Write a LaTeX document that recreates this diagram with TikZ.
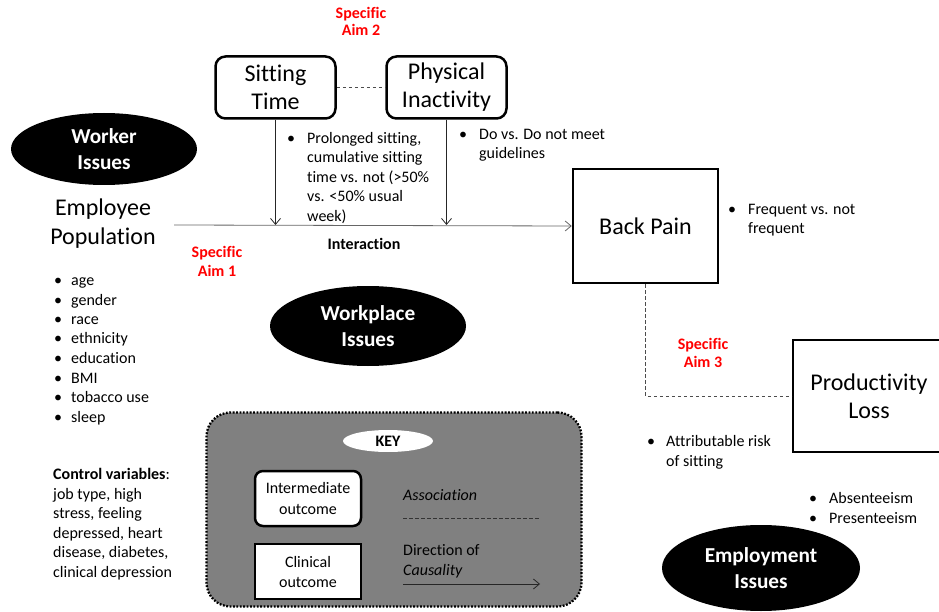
\documentclass[tikz,border=0pt]{standalone}
\usepackage{fontspec}
\setmainfont{Carlito}[Ligatures={NoCommon}]
\usetikzlibrary{arrows.meta,shapes.geometric}

% multi-line text blocks whose reference point is the first baseline
\newcommand\leftlines[1]{\begin{tabular}[t]{@{}l@{}}#1\end{tabular}}
\newcommand\centerlines[1]{\begin{tabular}[t]{@{}c@{}}#1\end{tabular}}
% bulleted block: #1 = indent from bullet to text
\newcommand\bulletblock[2]{\begin{tabular}[t]{@{}p{#1}@{}l@{}}#2\end{tabular}}

\begin{document}
\begin{tikzpicture}[x=1pt,y=-1pt,
  big/.style={font=\fontsize{24}{28}\selectfont},
  body/.style={font=\fontsize{16}{19.5}\selectfont},
  txt/.style={body, anchor=base west, inner sep=0pt},
  aim/.style={text=red, anchor=base, inner sep=0pt},
  issue/.style={ellipse, fill=black, text=white, inner sep=0pt, align=center,
                font=\bfseries\fontsize{21.3}{26.5}\selectfont},
  softbox/.style={draw, line width=2.5pt, rounded corners=10pt, fill=white,
                  align=center, inner sep=0pt, big},
  hardbox/.style={draw, line width=2.5pt, fill=white, align=center, inner sep=0pt, big},
  cause/.style={line width=0.8pt, black!85, -{Straight Barb[length=6pt,width=10pt]}},
  assoc/.style={line width=0.8pt, black!70, dash pattern=on 3.5pt off 2.5pt},
]
\useasboundingbox (0,0) rectangle (939,612);
\clip (0,0) rectangle (939,612);

% ---- exposures ----
\node[softbox, minimum width=120, minimum height=62] (sit) at (275.5,87.5) {Sitting\\Time};
\node[softbox, minimum width=120, minimum height=62] (phys) at (446.5,87.5) {Physical\\Inactivity};
\node[aim, font=\bfseries\fontsize{16}{16}\selectfont] (aim2) at (361,19) {\centerlines{Specific\\Aim 2}};
\draw[assoc] (sit.east) -- (phys.west);

% ---- outcomes ----
\node[hardbox, minimum width=145, minimum height=114] (back) at (645.5,226) {Back Pain};
\node[hardbox, minimum width=152, minimum height=112] (prod) at (869,396) {Productivity\\Loss};

% ---- population ----
\node[issue, minimum width=186, minimum height=72] (worker) at (104,149) {Worker\\Issues};
\node[align=center, inner sep=0pt, font=\fontsize{24}{29}\selectfont] (pop) at (103,223.5) {Employee\\Population};
\coordinate (start) at (174,225);

% ---- connectors ----
\draw[cause, black!60] (start) -- (back.west);
\draw[cause] (sit.south) -- (sit.south |- start);
\draw[cause] (phys.south) -- (phys.south |- start);
\draw[assoc] (back.south) |- (prod.west);

\node[font=\bfseries\fontsize{16}{19.5}\selectfont, anchor=base, inner sep=0pt] (inter) at (364,250) {Interaction};
\node[aim, font=\bfseries\fontsize{16}{18.5}\selectfont] (aim1) at (217,258) {\centerlines{Specific\\Aim 1}};
\node[aim, font=\bfseries\fontsize{16}{18.5}\selectfont] (aim3) at (703,349) {\centerlines{Specific\\Aim 3}};

% ---- bulleted notes ----
\node[txt] (sitnote) at (287,143.5) {\bulletblock{20pt}{\textbullet & Prolonged sitting,\\ & cumulative sitting\\ & time vs. not (>50\%\\ & vs. <50\% usual\\ & week)}};
\node[txt] (physnote) at (459,139.5) {\bulletblock{20pt}{\textbullet & Do vs. Do not meet\\ & guidelines}};
\node[txt] (backnote) at (728,214.5) {\bulletblock{20pt}{\textbullet & Frequent vs. not\\ & frequent}};
\node[txt] (prodnote) at (647,446.5) {\bulletblock{19pt}{\textbullet & Attributable risk\\ & of sitting}};
\node[txt] (empnote) at (809,503.5) {\bulletblock{20pt}{\textbullet & Absenteeism\\ \textbullet & Presenteeism}};
\node[txt] (demo) at (54,285.5) {\bulletblock{17pt}{\textbullet & age\\ \textbullet & gender\\ \textbullet & race\\ \textbullet & ethnicity\\ \textbullet & education\\ \textbullet & BMI\\ \textbullet & tobacco use\\ \textbullet & sleep}};
\node[txt] (control) at (53,479.5) {\leftlines{\textbf{Control variables}:\\ job type,\ high\\ stress, feeling\\ depressed, heart\\ disease, diabetes,\\ clinical depression}};

% ---- issue ellipses ----
\node[issue, minimum width=196, minimum height=80] (workplace) at (368,326) {Workplace\\Issues};
\node[issue, minimum width=198, minimum height=86] (employment) at (761,568) {Employment\\Issues};

% ---- key ----
\node[draw=black, line width=2.3pt, dash pattern=on 1.8pt off 1.6pt, fill=black!50,
      rounded corners=24pt, minimum width=375, minimum height=194, inner sep=0pt] (keybox) at (394,509.5) {};
\node[ellipse, fill=white, minimum width=90, minimum height=22, inner sep=0pt,
      font=\bfseries\fontsize{16}{16}\selectfont] (keytitle) at (388,441) {KEY};
\node[draw, line width=2.5pt, fill=white, rounded corners=8pt, minimum width=106, minimum height=55,
      inner sep=0pt, align=center, font=\fontsize{16}{21}\selectfont] (interkey) at (308,498.5) {Intermediate\\outcome};
\node[draw, line width=2.5pt, fill=white, minimum width=106, minimum height=55,
      inner sep=0pt, align=center, font=\fontsize{16}{20}\selectfont] (clinkey) at (308,571.5) {Clinical\\outcome};
\node[txt] (assoctext) at (403,500.5) {\textit{Association}};
\coordinate (a1) at (403,518);
\coordinate (a2) at (540,518);
\draw[assoc, black!80] (a1) -- (a2);
\node[txt] (causetext) at (403,555.5) {\leftlines{Direction of\\ \textit{Causality}}};
\coordinate (c1) at (403,584);
\coordinate (c2) at (540,584);
\draw[cause] (c1) -- (c2);
\end{tikzpicture}
\end{document}
